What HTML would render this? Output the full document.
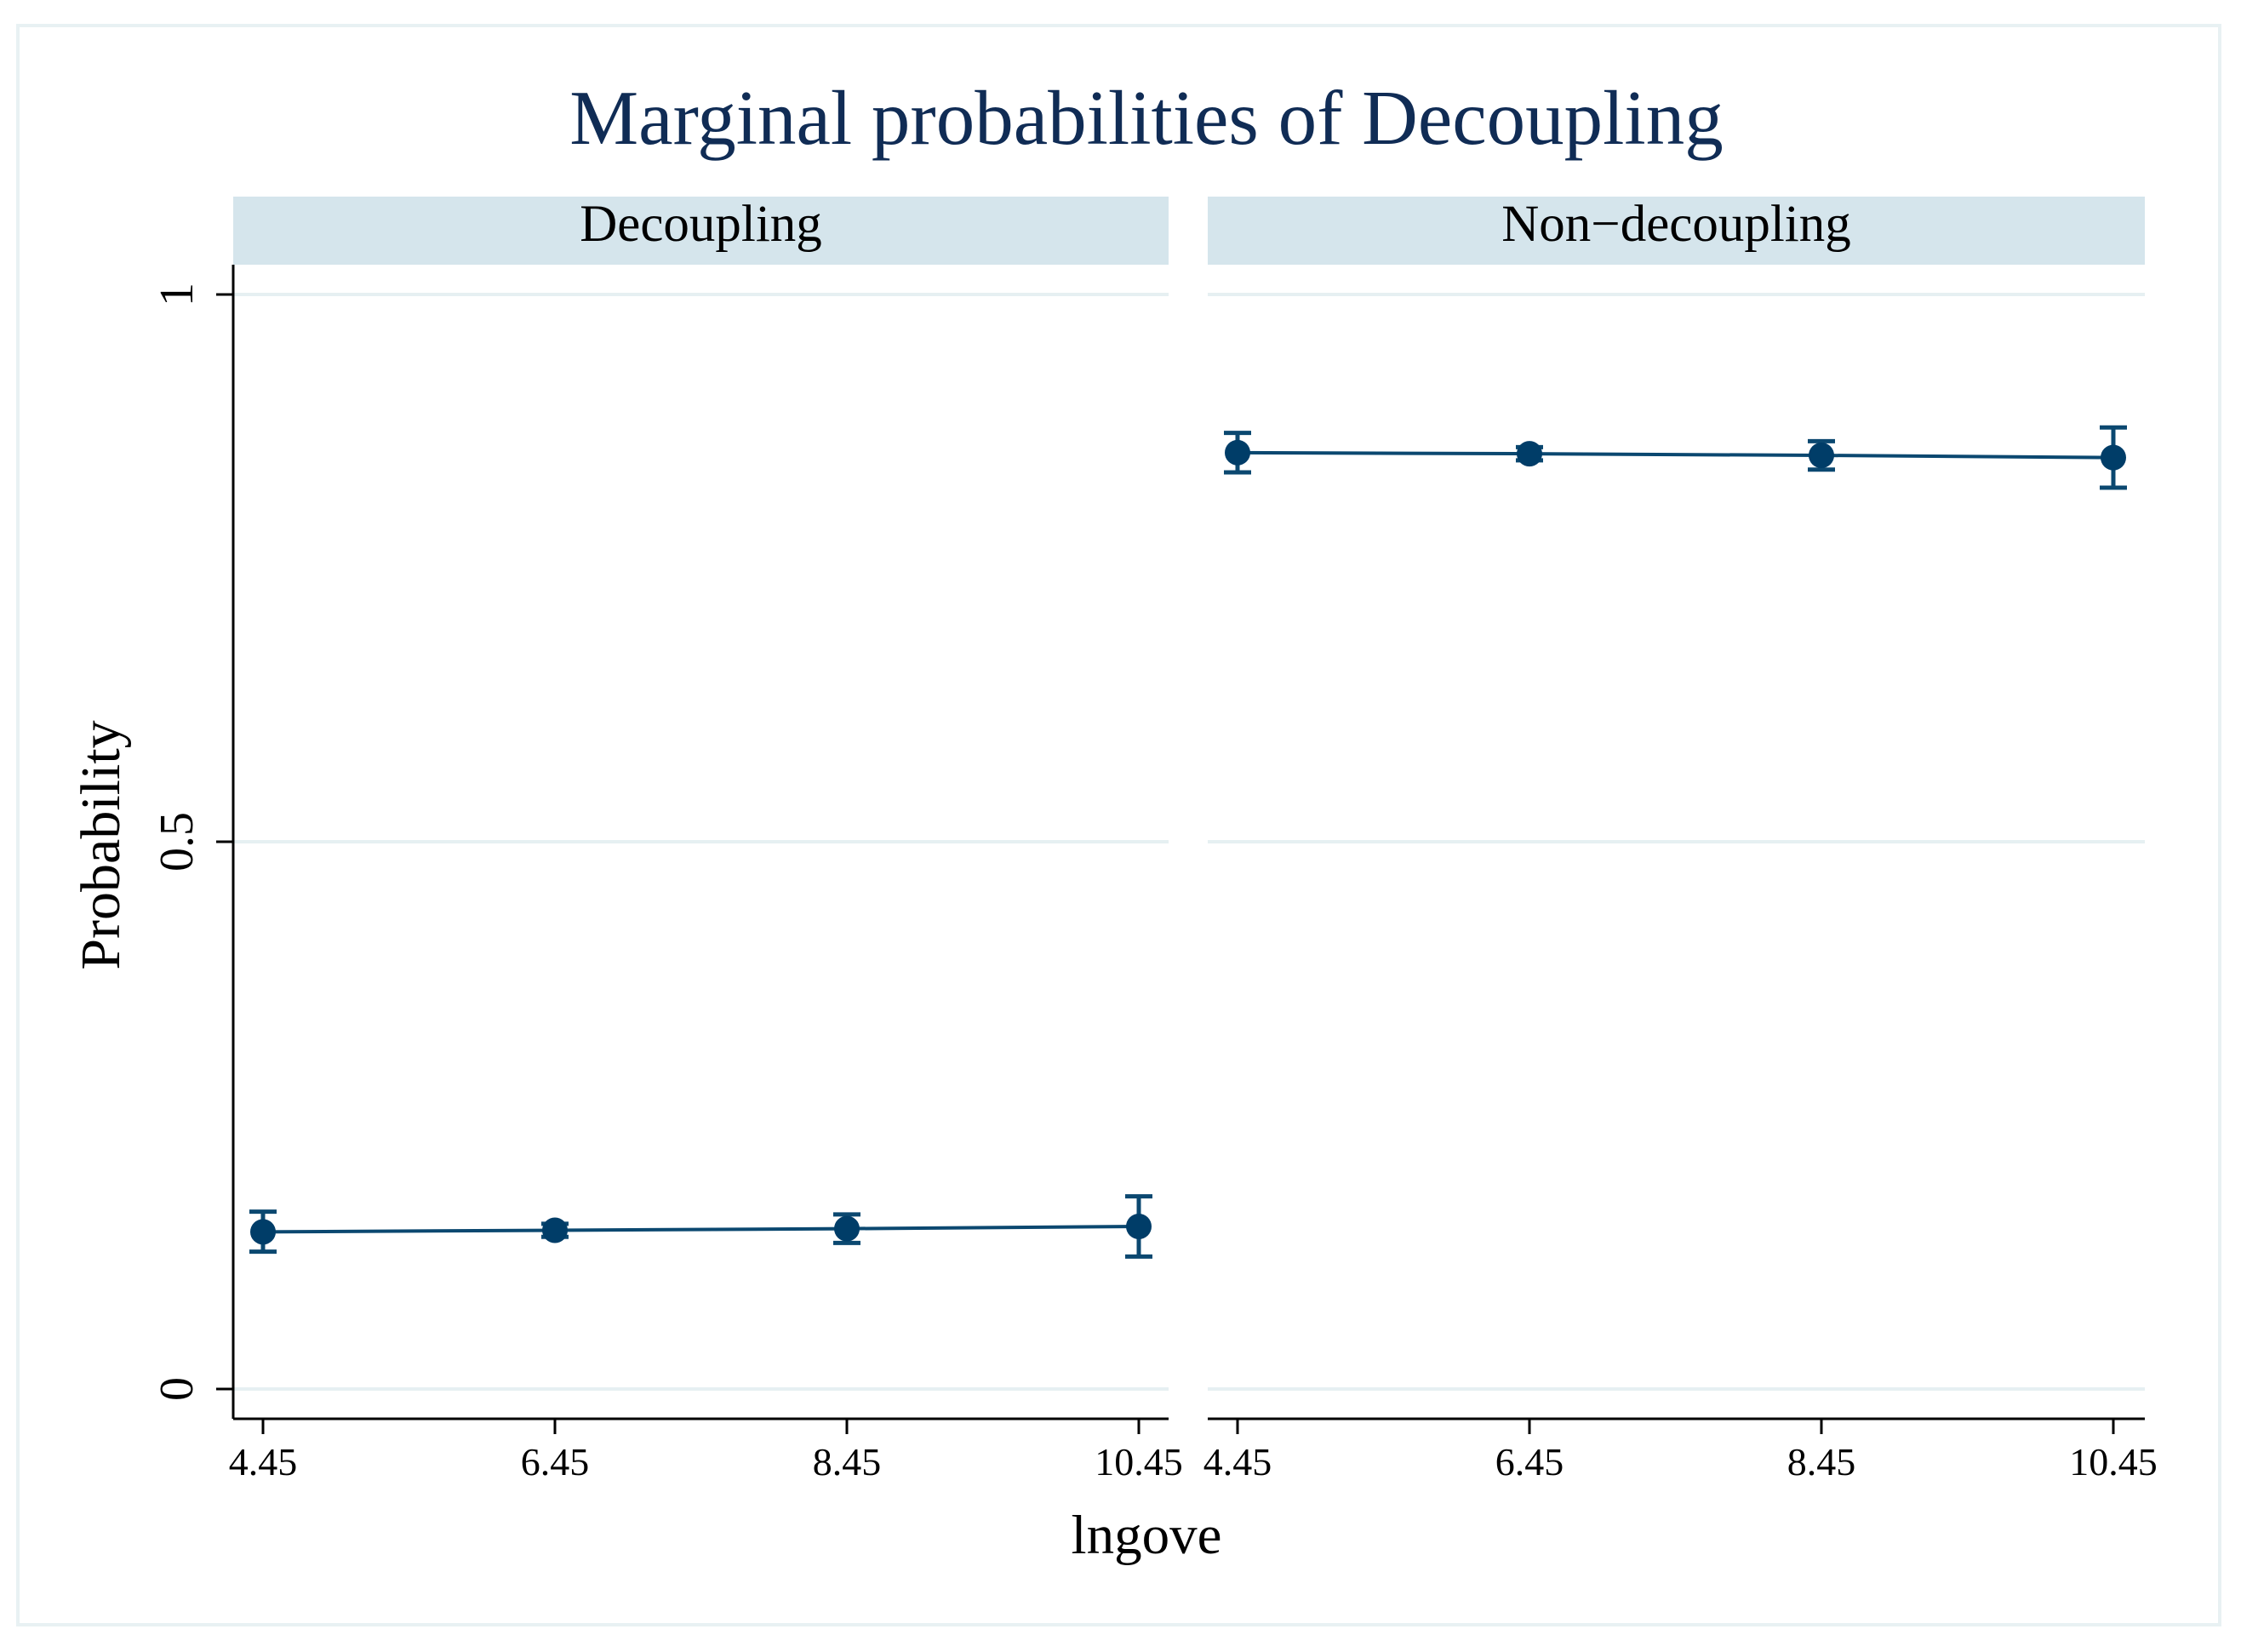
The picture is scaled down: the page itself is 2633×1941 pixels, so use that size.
<!DOCTYPE html>
<html><head><meta charset="utf-8">
<style>
html,body{margin:0;padding:0;background:#fff;}
svg{display:block;font-family:"Liberation Serif",serif;}
</style></head>
<body>
<svg id="chart" width="2633" height="1941" viewBox="0 0 2633 1941" xmlns="http://www.w3.org/2000/svg">
<rect x="0" y="0" width="2633" height="1941" fill="#ffffff"/>
<rect x="21" y="30" width="2587" height="1879" fill="#ffffff" stroke="#e8f1f3" stroke-width="4"/>
<text x="1347" y="169" font-size="91" fill="#102c55" text-anchor="middle">Marginal probabilities of Decoupling</text>
<text x="0" y="0" transform="translate(140,993) rotate(-90)" font-size="66" fill="#000" text-anchor="middle">Probability</text>
<text x="1347" y="1825" font-size="65" fill="#000" text-anchor="middle">lngove</text>
<g id="plots"></g>
</svg>
<script>
const panelNames = ["Decoupling", "Non\u2212decoupling"];
const xValues = [4.45, 6.45, 8.45, 10.45];
const xTickLabels = ["4.45", "6.45", "8.45", "10.45"];
const yTicks = [0, 0.5, 1];
const yTickLabels = ["0", "0.5", "1"];
const decouplingProb = [0.1436, 0.1450, 0.1465, 0.1485];
const decouplingLo = [0.1255, 0.1390, 0.1335, 0.1210];
const decouplingHi = [0.1620, 0.1510, 0.1595, 0.1760];
const nonDecouplingProb = [0.8555, 0.8545, 0.8530, 0.8510];
const nonDecouplingLo = [0.8375, 0.8485, 0.8400, 0.8235];
const nonDecouplingHi = [0.8735, 0.8605, 0.8660, 0.8785];

const NS = "http://www.w3.org/2000/svg";
const g = document.getElementById("plots");
const panels = [
  {x0: 274, x1: 1373, px0: 309, px1: 1338, prob: decouplingProb, lo: decouplingLo, hi: decouplingHi, key: "decoupling"},
  {x0: 1419, x1: 2520, px0: 1454, px1: 2483, prob: nonDecouplingProb, lo: nonDecouplingLo, hi: nonDecouplingHi, key: "non-decoupling"}
];
const yTop = 346, yBot = 1632, axisY = 1667, stripTop = 231, stripBot = 311;
function yScale(v){ return yBot - (v - 0) / (1 - 0) * (yBot - yTop); }
function mk(tag, attrs, parent){
  const e = document.createElementNS(NS, tag);
  for (const k in attrs) e.setAttribute(k, attrs[k]);
  (parent || g).appendChild(e);
  return e;
}
panels.forEach((p, pi) => {
  const xMin = xValues[0], xMax = xValues[xValues.length - 1];
  const xScale = v => p.px0 + (v - xMin) / (xMax - xMin) * (p.px1 - p.px0);
  const strip = mk("rect", {x: p.x0, y: stripTop, width: p.x1 - p.x0, height: stripBot - stripTop, fill: "#d5e5ec"});
  
  
  const st = mk("text", {x: (p.x0 + p.x1) / 2, y: 283, "font-size": 61, "text-anchor": "middle", fill: "#000"});
  st.textContent = panelNames[pi];
  
  
  yTicks.forEach((t, ti) => {
    const gl = mk("line", {x1: p.x0, x2: p.x1, y1: yScale(t), y2: yScale(t), stroke: "#e6f0f2", "stroke-width": 4});
    
    
  });
  const xa = mk("line", {x1: p.x0, x2: p.x1, y1: axisY, y2: axisY, stroke: "#000", "stroke-width": 3});
  
  
  xValues.forEach((v, i) => {
    const tk = mk("line", {x1: xScale(v), x2: xScale(v), y1: axisY, y2: axisY + 18, stroke: "#000", "stroke-width": 3});
    
    
    const tl = mk("text", {x: xScale(v), y: 1733, "font-size": 46, "text-anchor": "middle", fill: "#000"});
    tl.textContent = xTickLabels[i];
    
    
  });
  if (pi === 0) {
    const ya = mk("line", {x1: p.x0, x2: p.x0, y1: 311, y2: axisY, stroke: "#000", "stroke-width": 3});
    
    
    yTicks.forEach((t, ti) => {
      const tk = mk("line", {x1: p.x0 - 20, x2: p.x0, y1: yScale(t), y2: yScale(t), stroke: "#000", "stroke-width": 3});
      
      
      const tl = mk("text", {x: 0, y: 0, transform: "translate(226," + yScale(t) + ") rotate(-90)", "font-size": 56, "text-anchor": "middle", fill: "#000"});
      tl.textContent = yTickLabels[ti];
      
      
    });
  }
  const pts = xValues.map((v, i) => xScale(v) + "," + yScale(p.prob[i])).join(" ");
  const ln = mk("polyline", {points: pts, fill: "none", stroke: "#0b4870", "stroke-width": 4});
  
  
  xValues.forEach((v, i) => {
    const cx = xScale(v);
    const eb = mk("path", {d: "M" + (cx - 16) + "," + yScale(p.hi[i]) + "H" + (cx + 16) + "M" + cx + "," + yScale(p.hi[i]) + "V" + yScale(p.lo[i]) + "M" + (cx - 16) + "," + yScale(p.lo[i]) + "H" + (cx + 16), stroke: "#0b4870", "stroke-width": 5, fill: "none"});
    
    
    const c = mk("circle", {cx: cx, cy: yScale(p.prob[i]), r: 15, fill: "#003d68"});
    
    
  });
});
</script>
</body></html>
